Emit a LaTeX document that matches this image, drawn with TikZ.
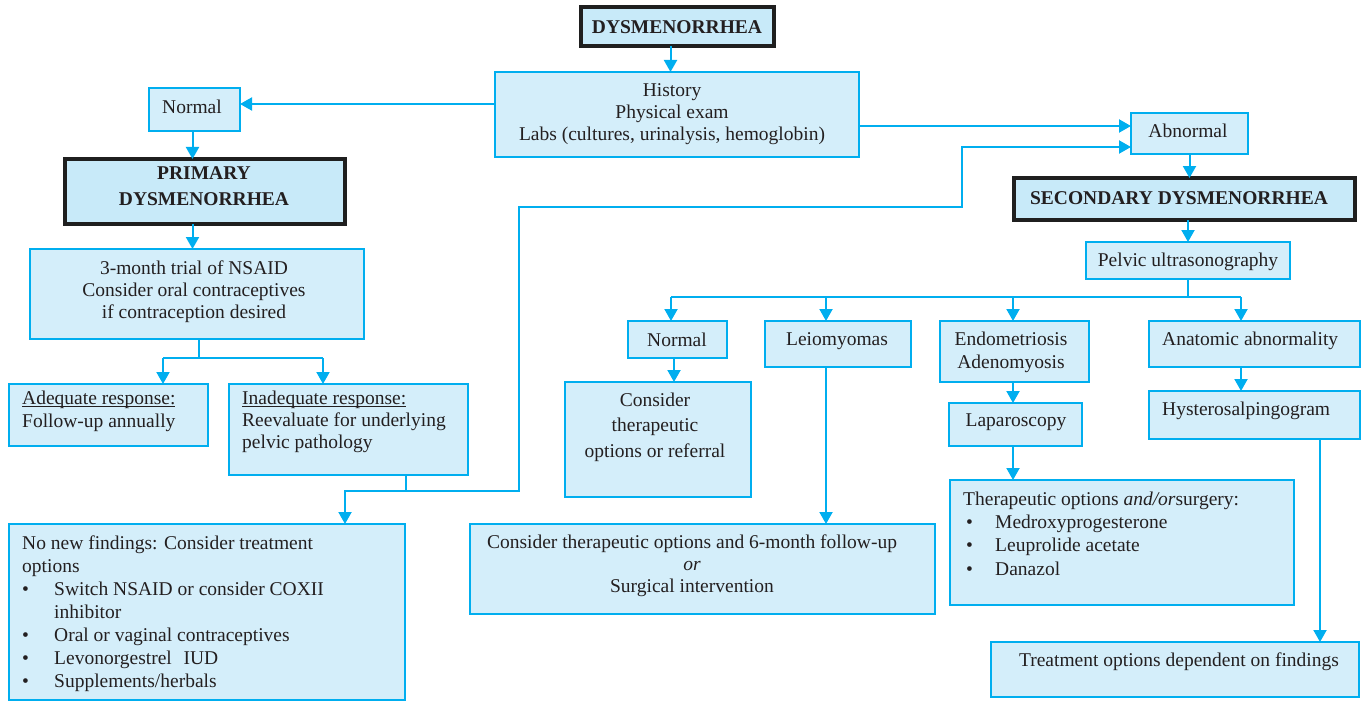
\documentclass[tikz,border=0pt]{standalone}
\usepackage{fontspec}
\setmainfont{Liberation Serif}
\usetikzlibrary{arrows.meta}
\definecolor{cyanline}{RGB}{0,174,239}
\definecolor{boxfill}{RGB}{212,238,250}
\definecolor{hfill}{RGB}{200,234,249}
\definecolor{txtcol}{RGB}{35,31,32}
\newcommand\fsz[1]{\fontsize{19.5bp}{#1}\selectfont}
\newcommand\bul{\makebox[32bp][l]{•}}
\newcommand\bulb{\makebox[29bp][l]{•}}
\newcommand\uln[1]{\setbox0\hbox{#1}\rlap{\rule[-2.2bp]{\wd0}{0.7bp}}\box0}
\begin{document}
\begin{tikzpicture}[x=1bp,y=-1bp,
 box/.style={draw=cyanline, fill=boxfill, line width=1.8bp, inner sep=0pt, outer sep=0pt},
 hbox/.style={draw=black!88, fill=hfill, line width=4bp, inner sep=0pt, outer sep=0pt},
 ln/.style={draw=cyanline, line width=2bp},
 arr/.style={draw=cyanline, line width=2bp, -{Triangle[length=12bp,width=13bp]}},
 txt/.style={text=txtcol, inner sep=0pt, font=\fsz{22bp}},
]
\useasboundingbox (0,0) rectangle (1362,702);

% ---------- boxes ----------
\node[hbox, minimum width=193bp, minimum height=39bp] (dys) at (677.5,26.5) {};
\node[box, minimum width=364bp, minimum height=85bp] (hist) at (677,114.5) {};
\node[box, minimum width=91bp, minimum height=43bp] (normL) at (194.5,109.5) {};
\node[hbox, minimum width=280bp, minimum height=65bp] (prim) at (205,191.5) {};
\node[box, minimum width=334bp, minimum height=90bp] (trial) at (197,294) {};
\node[box, minimum width=199bp, minimum height=62bp] (adeq) at (108.5,415) {};
\node[box, minimum width=239bp, minimum height=91bp] (inadeq) at (348.5,429.5) {};
\node[box, minimum width=396bp, minimum height=176bp] (nonew) at (207,612) {};
\node[box, minimum width=117bp, minimum height=41bp] (abn) at (1189.5,133.5) {};
\node[hbox, minimum width=341bp, minimum height=42bp] (sec) at (1184.5,199) {};
\node[box, minimum width=204bp, minimum height=37bp] (pelv) at (1188,260.5) {};
\node[box, minimum width=99bp, minimum height=37bp] (normM) at (677.5,339.5) {};
\node[box, minimum width=146bp, minimum height=46bp] (leio) at (838,344) {};
\node[box, minimum width=149bp, minimum height=61bp] (endo) at (1014.5,351.5) {};
\node[box, minimum width=211bp, minimum height=46bp] (anat) at (1254.5,344) {};
\node[box, minimum width=186bp, minimum height=115bp] (cons) at (658,439.5) {};
\node[box, minimum width=133bp, minimum height=43bp] (lap) at (1015.5,424.5) {};
\node[box, minimum width=211bp, minimum height=48bp] (hyst) at (1254.5,415) {};
\node[box, minimum width=465bp, minimum height=90bp] (sixm) at (702.5,569) {};
\node[box, minimum width=344bp, minimum height=125bp] (ther) at (1122,542.5) {};
\node[box, minimum width=368bp, minimum height=55bp] (treat) at (1175,669.5) {};

% ---------- texts ----------
\node[txt, anchor=north, font=\fsz{22bp}\bfseries] (tdys) at (677,20.5) {DYSMENORRHEA};
\node[txt, anchor=north, align=center] (thist) at (672,83.5) {History\\Physical exam\\Labs (cultures, urinalysis, hemoglobin)};
\node[txt, anchor=north] (tnormL) at (192,99.5) {Normal};
\node[txt, anchor=north, align=center, font=\fsz{26bp}\bfseries] (tprim) at (204,166.5) {PRIMARY\\DYSMENORRHEA};
\node[txt, anchor=north, align=center] (ttrial) at (194,260.5) {3-month trial of NSAID\\Consider oral contraceptives\\if contraception desired};
\node[txt, anchor=north west, align=left, font=\fsz{23bp}] (tadeq) at (22,390.5) {\uln{Adequate response:}\\Follow-up annually};
\node[txt, anchor=north west, align=left] (tinadeq) at (242,390.5) {\uln{Inadequate response:}\\Reevaluate for underlying\\pelvic pathology};
\node[txt, anchor=north west, align=left, font=\fsz{23bp}] (tnonew) at (22,535.5) {No new findings: Consider treatment\\options\\\bul Switch NSAID or consider COXII\\\hspace*{32bp}inhibitor\\\bul Oral or vaginal contraceptives\\\bul Levonorgestrel\hspace{0.6em}IUD\\\bul Supplements/herbals};
\node[txt, anchor=north] (tabn) at (1188,123.5) {Abnormal};
\node[txt, anchor=north, font=\fsz{22bp}\bfseries] (tsec) at (1179,191.5) {SECONDARY DYSMENORRHEA};
\node[txt, anchor=north] (tpelv) at (1188,252.5) {Pelvic ultrasonography};
\node[txt, anchor=north] (tnormM) at (677,332.5) {Normal};
\node[txt, anchor=north] (tleio) at (837,332.5) {Leiomyomas};
\node[txt, anchor=north, align=center, font=\fsz{23bp}] (tendo) at (1011,331.5) {Endometriosis\\Adenomyosis};
\node[txt, anchor=north west] (tanat) at (1162,331.5) {Anatomic abnormality};
\node[txt, anchor=north west] (thyst) at (1162,401.5) {Hysterosalpingogram};
\node[txt, anchor=north, align=center, font=\fsz{25.5bp}] (tcons) at (655,392.5) {Consider\\therapeutic\\options or referral};
\node[txt, anchor=north] (tlap) at (1016,413.5) {Laparoscopy};
\node[txt, anchor=north, align=center] (tsixm) at (692,534.5) {Consider therapeutic options and 6-month follow-up\\\textit{or}\\Surgical intervention};
\node[txt, anchor=north west, align=left, font=\fsz{23.3bp}] (tther) at (963,491.5) {Therapeutic options \textit{and/or}surgery:\\\hspace*{3bp}\bulb Medroxyprogesterone\\\hspace*{3bp}\bulb Leuprolide acetate\\\hspace*{3bp}\bulb Danazol};
\node[txt, anchor=north] (ttreat) at (1179,652.5) {Treatment options dependent on findings};

% ---------- helper coordinates ----------
\coordinate (j1) at (199,358);
\coordinate (j1a) at (163,358);
\coordinate (j1b) at (323,358);
\coordinate (j2) at (406,491);
\coordinate (j2l) at (345,491);
\coordinate (j2r) at (519,491);
\coordinate (j3) at (962,207);
\coordinate (h) at (1188,297);
\coordinate (ha) at (671,297);
\coordinate (hb) at (826,297);
\coordinate (hc) at (1013,297);
\coordinate (hd) at (1241,297);
\coordinate (v) at (1320,0);

% ---------- connectors ----------
\draw[arr] ([xshift=-7bp]dys.south) -- ([xshift=-7bp]dys.south |- hist.north);
\draw[arr] ([yshift=10.5bp]hist.west) -- ([yshift=10.5bp]hist.west -| normL.east);
\draw[arr] ([yshift=-11.5bp]hist.east) -- ([yshift=-11.5bp]hist.east -| abn.west);
\draw[arr] ([xshift=-2bp]normL.south) -- ([xshift=-2bp]normL.south |- prim.north);
\draw[arr] ([xshift=-2bp]normL.south |- prim.south) -- ([xshift=-2bp]normL.south |- trial.north);
\draw[ln] (j1 |- trial.south) -- (j1);
\draw[ln] (j1a) -- (j1b);
\draw[arr] (j1a) -- (j1a |- adeq.north);
\draw[arr] (j1b) -- (j1b |- inadeq.north);
\draw[ln] (j2 |- inadeq.south) -- (j2);
\draw[arr] (j2r) -- (j2l) -- (j2l |- nonew.north);
\draw[arr] (j2) -- (j2r) |- (j3) |- ([yshift=-13.5bp]abn.west);
\draw[arr] (abn.south) -- (abn.south |- sec.north);
\draw[arr] (pelv.north |- sec.south) -- (pelv.north);
\draw[ln] (pelv.south) -- (h);
\draw[ln] (ha) -- (hd);
\draw[arr] (ha) -- (ha |- normM.north);
\draw[arr] (hb) -- (hb |- leio.north);
\draw[arr] (hc) -- (hc |- endo.north);
\draw[arr] (hd) -- (hd |- anat.north);
\draw[arr] ([xshift=-3.5bp]normM.south) -- ([xshift=-3.5bp]normM.south |- cons.north);
\draw[arr] (hb |- leio.south) -- (hb |- sixm.north);
\draw[arr] (hc |- endo.south) -- (hc |- lap.north);
\draw[arr] (hc |- lap.south) -- (hc |- ther.north);
\draw[arr] (hd |- anat.south) -- (hd |- hyst.north);
\draw[arr] (v |- hyst.south) -- (v |- treat.north);
\end{tikzpicture}
\end{document}
